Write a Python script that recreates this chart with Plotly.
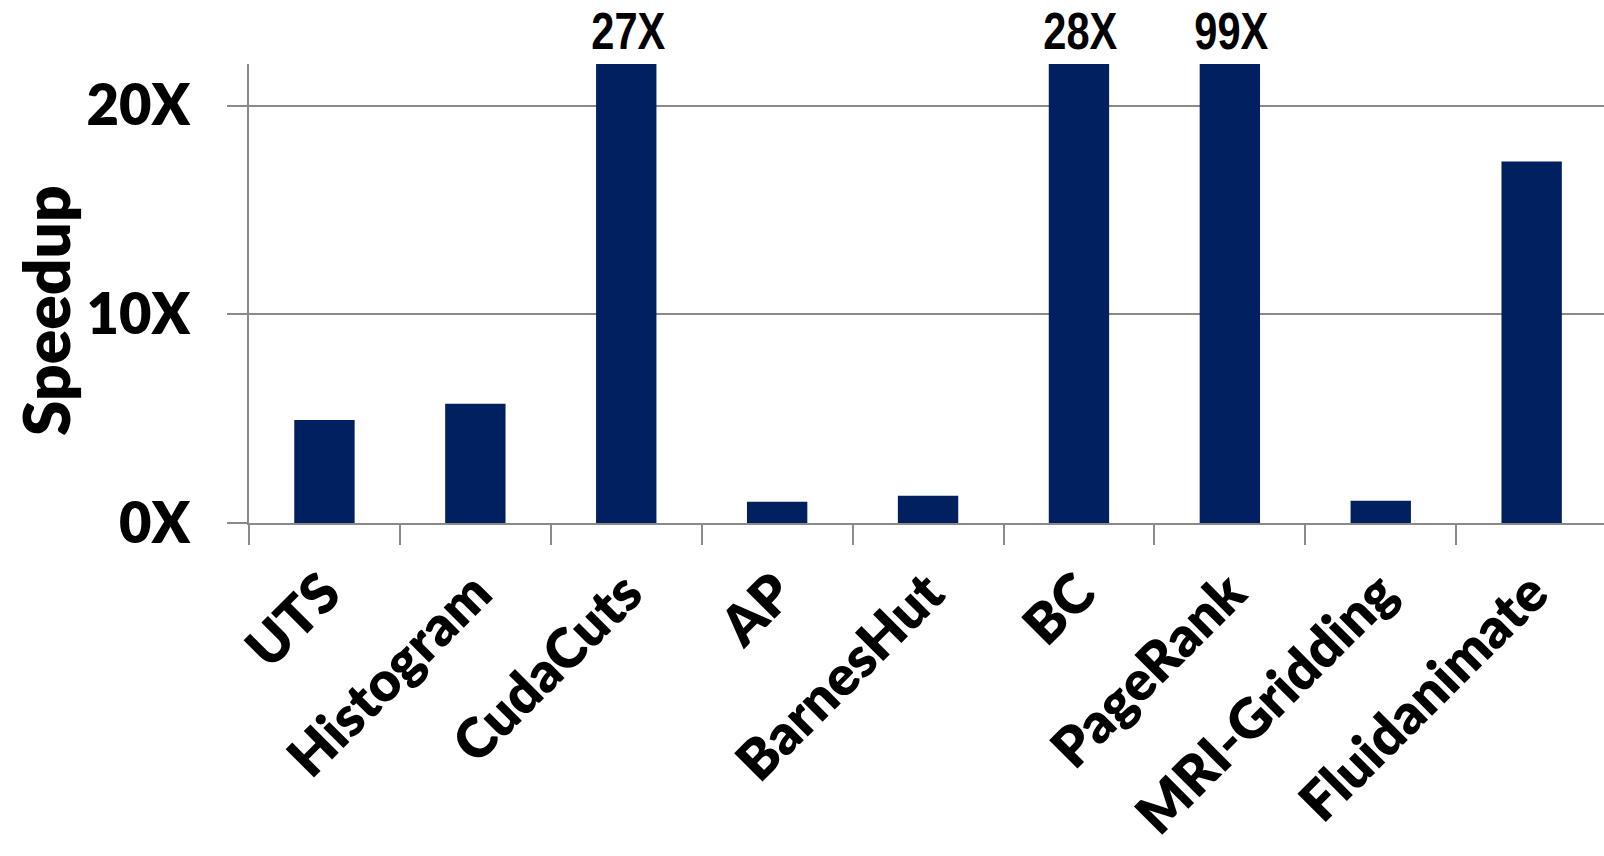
import plotly.graph_objects as go

# Benchmark speedups (bars above the axis limit are clipped and labelled)
benchmarks = ["UTS", "Histogram", "CudaCuts", "AP", "BarnesHut", "BC",
              "PageRank", "MRI-Gridding", "Fluidanimate"]
speedup = [4.94, 5.71, 27, 1.02, 1.31, 28, 99, 1.07, 17.33]
y_max = 22
y_ticks = [0, 10, 20]

BAR_COLOR = "#002060"
GRID_COLOR = "#8a8a8a"
LABEL_FONT = "Lato, 'Open Sans', sans-serif"
VALUE_FONT = "'Liberation Sans', Arial, sans-serif"

W, H = 1604, 856
M_L, M_T, M_B = 249, 64, 333
px_per_cat = 150.9
plot_w = W - M_L

fig = go.Figure()
fig.add_trace(go.Bar(
    x=benchmarks,
    y=speedup,
    marker=dict(color=BAR_COLOR, line=dict(width=0)),
    width=0.4,
    hoverinfo="x+y",
))

# Value labels for bars that run past the top of the axis
for name, v in zip(benchmarks, speedup):
    if v > y_max:
        fig.add_annotation(
            x=name, y=y_max, xref="x", yref="y",
            text=f"<b>{v:.0f}X</b>", showarrow=False,
            yanchor="bottom", yshift=2, xshift=2,
            font=dict(family=VALUE_FONT, size=52, color="black"),
        )

# Vertical axis title
fig.add_annotation(
    xref="paper", yref="paper",
    x=(45 - M_L) / plot_w, y=(H - M_B - 311) / (H - M_T - M_B),
    text="Speedup", textangle=-90, showarrow=False,
    xanchor="center", yanchor="middle",
    font=dict(family=LABEL_FONT, size=64, color="black", weight=800),
)

fig.update_layout(
    width=W, height=H,
    margin=dict(l=M_L, r=0, t=M_T, b=M_B, pad=0, autoexpand=False),
    paper_bgcolor="white", plot_bgcolor="white",
    showlegend=False,
    bargap=0.6,
)

fig.update_xaxes(
    type="category", automargin=False,
    range=[-0.5, -0.5 + plot_w / px_per_cat],
    showline=True, linecolor=GRID_COLOR, linewidth=1.5,
    ticks="outside", tickson="boundaries", ticklen=20,
    tickcolor=GRID_COLOR, tickwidth=1.5,
    tickangle=-45, ticklabelstandoff=14,
    tickfont=dict(family=LABEL_FONT, size=55, color="black", weight=800),
    showgrid=False, zeroline=False,
)

fig.update_yaxes(
    automargin=False,
    range=[0, y_max],
    tickvals=y_ticks, ticktext=[f"{t}X" for t in y_ticks],
    showline=True, linecolor=GRID_COLOR, linewidth=1.5,
    ticks="outside", ticklen=20, tickcolor=GRID_COLOR, tickwidth=1.5,
    ticklabelstandoff=26,
    tickfont=dict(family=LABEL_FONT, size=56, color="black", weight=800),
    showgrid=True, gridcolor=GRID_COLOR, gridwidth=1.5,
    zeroline=False,
)

# Narrow the value labels horizontally (condensed bold look)
condense_js = """
var gd = document.getElementById('{plot_id}');
function condense() {
  gd.querySelectorAll('text.annotation-text').forEach(function (t) {
    if (/^\\d+X$/.test(t.textContent.trim())) {
      t.style.transformBox = 'fill-box';
      t.style.transformOrigin = 'center';
      t.style.transform = 'scaleX(0.8)';
    }
  });
}
condense();
gd.on('plotly_afterplot', condense);
"""

fig.write_html("out.html", post_script=condense_js)
